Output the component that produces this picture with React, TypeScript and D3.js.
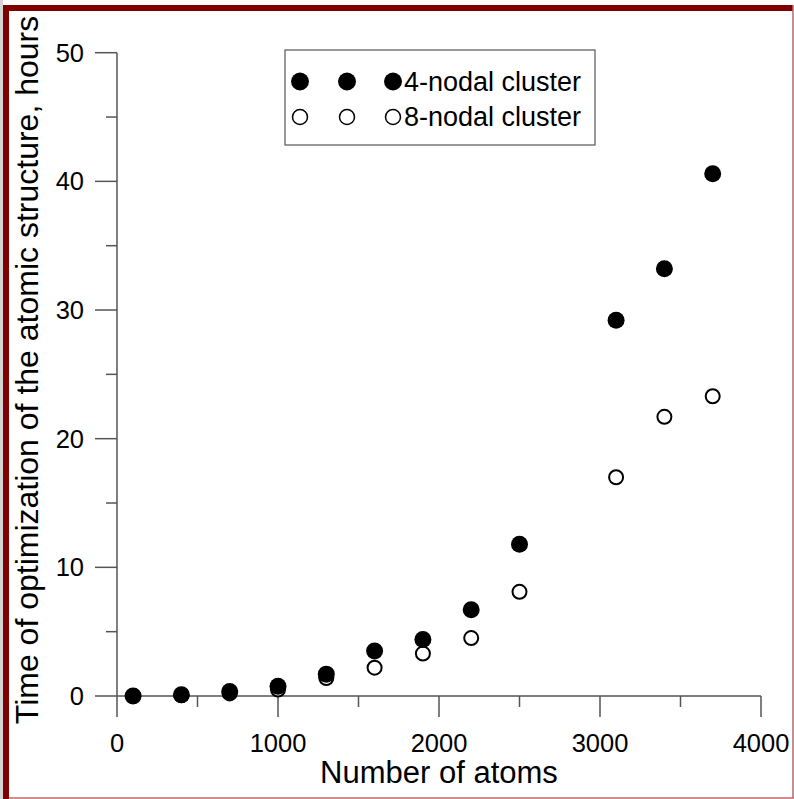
import React from "react";
import * as d3 from "d3";

// Number of atoms in the optimized structure
const atoms = [100, 400, 700, 1000, 1300, 1600, 1900, 2200, 2500, 3100, 3400, 3700];
// Optimization time, hours
const nodal4 = [0.0, 0.1, 0.35, 0.75, 1.7, 3.5, 4.4, 6.7, 11.8, 29.2, 33.2, 40.6];
const nodal8 = [0.0, 0.05, 0.2, 0.5, 1.4, 2.2, 3.3, 4.5, 8.1, 17.0, 21.7, 23.3];

const xMajor = [0, 1000, 2000, 3000, 4000];
const xMinor = [500, 1500, 2500, 3500];
const yMajor = [0, 10, 20, 30, 40, 50];
const yMinor = [5, 15, 25, 35, 45];

const legendLabels = ["4-nodal cluster", "8-nodal cluster"];

const W = 794;
const H = 799;
const FONT = "'Liberation Sans', Arial, sans-serif";
const AXIS = "#555";

export default function App() {
  const x = d3.scaleLinear().domain([0, 4000]).range([117, 761]);
  const y = d3.scaleLinear().domain([0, 50]).range([696, 52.7]);

  const x0 = x(0);
  const y0 = y(0);

  return (
    <svg
      width={W}
      height={H}
      style={{ position: "absolute", left: 0, top: 0, background: "#fff" }}
      fontFamily={FONT}
    >
      {/* frame */}
      <rect x={0} y={0} width={3} height={H} fill="#d4d4d4" />
      <rect x={3} y={5} width={6} height={H - 5} fill="#800000" />
      <rect x={3} y={5} width={790} height={6} fill="#800000" />
      <line x1={793} y1={5} x2={793} y2={798} stroke="#b36a6a" strokeWidth={1.5} />
      <line x1={9} y1={798} x2={794} y2={798} stroke="#c06a6a" strokeWidth={1.5} />

      {/* axes */}
      <g stroke={AXIS} strokeWidth={1.5} fill="none">
        <line x1={x0} y1={y(50)} x2={x0} y2={y0} />
        <line x1={x0} y1={y0} x2={x(4000)} y2={y0} />
        {yMajor.map((v) => (
          <line key={"ym" + v} x1={95} x2={x0} y1={y(v)} y2={y(v)} />
        ))}
        {yMinor.map((v) => (
          <line key={"yn" + v} x1={106} x2={x0} y1={y(v)} y2={y(v)} />
        ))}
        {xMajor.map((v) => (
          <line key={"xm" + v} x1={x(v)} x2={x(v)} y1={y0} y2={717} />
        ))}
        {xMinor.map((v) => (
          <line key={"xn" + v} x1={x(v)} x2={x(v)} y1={y0} y2={707} />
        ))}
      </g>

      {/* tick labels */}
      <g fontSize={25.5} fill="#000">
        {yMajor.map((v) => (
          <text key={"yl" + v} x={84} y={y(v)} textAnchor="end" dominantBaseline="central">
            {v}
          </text>
        ))}
        {xMajor.map((v) => (
          <text key={"xl" + v} x={x(v)} y={752} textAnchor="middle">
            {v}
          </text>
        ))}
      </g>

      {/* axis titles */}
      <text x={(x0 + x(4000)) / 2} y={783} textAnchor="middle" fontSize={31} fill="#000">
        Number of atoms
      </text>
      <text
        transform={`translate(38,370) rotate(-90)`}
        textAnchor="middle"
        fontSize={32}
        fill="#000"
      >
        Time of optimization of the atomic structure, hours
      </text>

      {/* data: open markers first, filled on top */}
      <g>
        {atoms.map((a, i) => (
          <circle key={"o" + i} cx={x(a)} cy={y(nodal8[i])} r={7} fill="#fff" stroke="#000" strokeWidth={2} />
        ))}
        {atoms.map((a, i) => (
          <circle key={"f" + i} cx={x(a)} cy={y(nodal4[i])} r={8.5} fill="#000" />
        ))}
      </g>

      {/* legend */}
      <g>
        <rect x={285} y={50} width={310} height={95} fill="#fff" stroke={AXIS} strokeWidth={1.2} />
        {[300, 347, 393].map((cx) => (
          <g key={"lg" + cx}>
            <circle cx={cx} cy={81.5} r={9} fill="#000" />
            <circle cx={cx} cy={117} r={7.5} fill="#fff" stroke="#000" strokeWidth={1.5} />
          </g>
        ))}
        <text x={404} y={81.5} fontSize={27} dominantBaseline="central" fill="#000">
          {legendLabels[0]}
        </text>
        <text x={404} y={117} fontSize={27} dominantBaseline="central" fill="#000">
          {legendLabels[1]}
        </text>
      </g>
    </svg>
  );
}
